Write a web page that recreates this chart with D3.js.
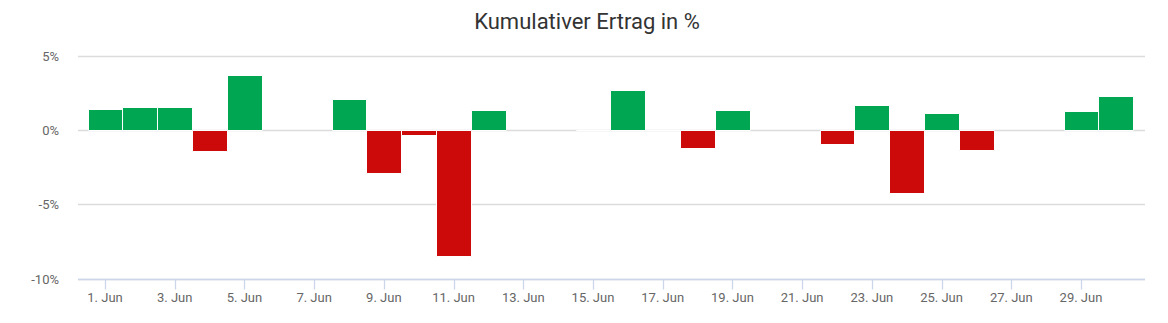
<!DOCTYPE html>
<html>
<head>
<meta charset="utf-8">
<script src="https://cdn.jsdelivr.net/npm/d3@7"></script>
<style>
  html, body { margin: 0; padding: 0; background: #ffffff; }
  svg { display: block; font-family: Roboto, "Noto Sans", sans-serif; }
</style>
</head>
<body>
<svg id="chart" width="1168" height="323"></svg>
<script>
// ---- data ----
const title = "Kumulativer Ertrag in %";
const days = [1, 2, 3, 4, 5, 8, 9, 10, 11, 12, 15, 16, 17, 18, 19, 22, 23, 24, 25, 26, 29, 30];
const values = [1.44, 1.53, 1.53, -1.42, 3.74, 2.09, -2.86, -0.34, -8.45, 1.35, 0.0, 2.70, 0.0, -1.17, 1.35, -0.93, 1.69, -4.21, 1.17, -1.35, 1.28, 2.27];
const xTickDays = [1, 3, 5, 7, 9, 11, 13, 15, 17, 19, 21, 23, 25, 27, 29];
const xTickLabels = ["1. Jun", "3. Jun", "5. Jun", "7. Jun", "9. Jun", "11. Jun", "13. Jun", "15. Jun", "17. Jun", "19. Jun", "21. Jun", "23. Jun", "25. Jun", "27. Jun", "29. Jun"];
const yTicks = [-10, -5, 0, 5];
const yTickLabels = ["-10%", "-5%", "0%", "5%"];

// ---- layout ----
const plotLeft = 78, plotRight = 1145, plotTop = 56, plotBottom = 278.5;
const svg = d3.select("#chart");

const x = d3.scaleLinear().domain([0.2254, 30.836]).range([plotLeft, plotRight]);
const y = d3.scaleLinear().domain([-10, 5]).range([plotBottom, plotTop]);

// title
svg.append("text")
  .attr("x", 587).attr("y", 29)
  .attr("text-anchor", "middle")
  .attr("font-size", 22)
  .attr("fill", "#333333")
  .text(title);

// gridlines
svg.append("g").selectAll("line").data(yTicks).join("line")
  .attr("x1", plotLeft).attr("x2", plotRight)
  .attr("y1", d => Math.round(y(d)) + 0.5).attr("y2", d => Math.round(y(d)) + 0.5)
  .attr("stroke", "#dcdcdc").attr("stroke-width", 1.3);

// y labels
svg.append("g").selectAll("text").data(yTicks).join("text")
  .attr("x", 59).attr("y", d => y(d) + 5)
  .attr("text-anchor", "end")
  .attr("font-size", 13)
  .attr("fill", "#666666")
  .text((d, i) => yTickLabels[i]);

// bars
const data = days.map((d, i) => ({ day: d, value: values[i] }));
svg.append("g").selectAll("path").data(data).join("path")
  .attr("d", d => {
    const x0 = Math.round(x(d.day - 0.5)) + 0.5;
    const x1 = Math.round(x(d.day + 0.5)) + 0.5;
    const yv = Math.round(y(d.value)) + 0.5;
    const y0 = Math.round(y(0)) + 0.5;
    return `M${x0},${Math.min(yv, y0)}H${x1}V${Math.max(yv, y0)}H${x0}Z`;
  })
  .attr("fill", d => d.value >= 0 ? "#00a651" : "#cc0a0a")
  .attr("stroke", "#ffffff")
  .attr("stroke-width", 1);

// x axis line
const axisY = Math.round(plotBottom) + 0.5;
svg.append("line")
  .attr("x1", plotLeft).attr("x2", plotRight)
  .attr("y1", axisY).attr("y2", axisY)
  .attr("stroke", "#ccd6eb").attr("stroke-width", 1.3);

// x ticks
svg.append("g").selectAll("line").data(xTickDays).join("line")
  .attr("x1", d => Math.round(x(d)) + 0.5).attr("x2", d => Math.round(x(d)) + 0.5)
  .attr("y1", axisY).attr("y2", axisY + 10)
  .attr("stroke", "#ccd6eb").attr("stroke-width", 1.3);

// x labels
svg.append("g").selectAll("text").data(xTickDays).join("text")
  .attr("x", d => x(d))
  .attr("y", 302)
  .attr("text-anchor", "middle")
  .attr("font-size", 13)
  .attr("fill", "#666666")
  .text((d, i) => xTickLabels[i]);
</script>
</body>
</html>
